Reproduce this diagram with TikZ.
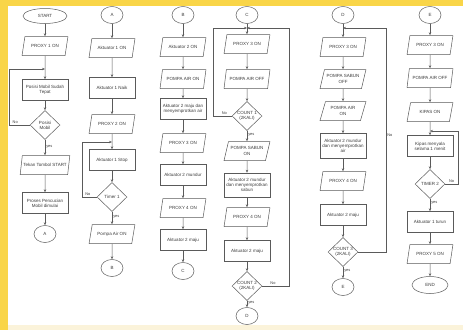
\documentclass[tikz,border=0pt]{standalone}
\usepackage{fontspec}
\setmainfont{Liberation Sans}
\usetikzlibrary{shapes.geometric,arrows.meta}
\definecolor{bgy}{HTML}{F9D548}
\definecolor{cream}{HTML}{FBF3DA}
\definecolor{ln}{HTML}{5A5A5A}
\definecolor{tx}{HTML}{3C3C3C}
\begin{document}
\begin{tikzpicture}[x=1pt,y=-1pt,
  every node/.style={font=\fontsize{4.5}{5.2}\selectfont, text=tx},
  base/.style={draw=ln, line width=0.5pt, inner sep=1pt, align=center},
  proc/.style={base, rectangle, minimum width=46pt, minimum height=21pt},
  io/.style={base, trapezium, trapezium left angle=68, trapezium right angle=112, trapezium stretches=true, minimum width=46pt, minimum height=19pt},
  dec/.style={base, diamond, minimum width=30pt, minimum height=29pt, inner sep=0pt},
  conn/.style={base, ellipse, minimum width=22pt, minimum height=17pt},
  term/.style={base, ellipse, minimum width=44pt, minimum height=15pt},
  arr/.style={draw=ln, line width=0.5pt, -{Stealth[length=3pt,width=2.4pt]}},
  lbl/.style={font=\fontsize{3.9}{4.5}\selectfont, inner sep=1pt}]
\useasboundingbox (0,0) rectangle (463,330);
\fill[bgy] (0,0) rectangle (463,330);
\fill[white] (8,6) rectangle (463,325);
\fill[cream] (8,325) rectangle (463,330);

% ---------- column 1
\node[term] (s1) at (45,16) {START};
\node[io] (a1) at (45,46) {PROXY 1 ON};
\node[proc] (a2) at (45,90) {Posisi Mobil Sudah\\Tepat};
\node[dec] (a3) at (45,125) {Posisi\\Mobil};
\node[io] (a4) at (45,165) {Tekan Tombol START};
\node[proc] (a5) at (45,203) {Proses Pencucian\\Mobil dimulai};
\node[conn] (a6) at (45,234) {A};
\coordinate (ja) at (45,69);
\coordinate (ka) at (9,125);
\draw[arr] (s1) -- (a1);
\draw[arr] (a1) -- (a2);
\draw[arr] (a2) -- (a3);
\draw[arr] (a3) -- node[lbl,right,pos=0.45]{yes} (a4);
\draw[arr] (a4) -- (a5);
\draw[arr] (a5) -- (a6);
\draw[arr] (a3.west) -- node[lbl,above,pos=0.7]{No} (ka) |- (ja);

% ---------- column 2
\node[conn] (b0) at (112,15) {A};
\node[io] (b1) at (112,48) {Aktuator 1 ON};
\node[proc] (b2) at (112,88) {Aktuator 1 Naik};
\node[io] (b3) at (112,124) {PROXY 2 ON};
\node[proc] (b4) at (112,160) {Aktuator 1 Stop};
\node[dec] (b5) at (112,197) {Timer 1};
\node[io] (b6) at (112,234) {Pompa Air ON};
\node[conn] (b7) at (112,268) {B};
\coordinate (jb) at (112,142);
\coordinate (kb) at (82,197);
\draw[arr] (b0) -- (b1);
\draw[arr] (b1) -- (b2);
\draw[arr] (b2) -- (b3);
\draw[arr] (b3) -- (b4);
\draw[arr] (b4) -- (b5);
\draw[arr] (b5) -- node[lbl,right,pos=0.4]{yes} (b6);
\draw[arr] (b6) -- (b7);
\draw[arr] (b5.west) -- node[lbl,above,pos=0.6]{No} (kb) |- (jb);

% ---------- column 3
\node[conn] (c0) at (183,15) {B};
\node[io] (c1) at (183,47) {Aktuator 2 ON};
\node[io] (c2) at (183,79) {POMPA AIR ON};
\node[proc] (c3) at (183,109) {Aktuator 2 maju dan\\menyemprotkan air};
\node[io] (c4) at (183,143) {PROXY 3 ON};
\node[proc] (c5) at (183,175) {Aktuator 2 mundur};
\node[io] (c6) at (183,208) {PROXY 4 ON};
\node[proc] (c7) at (183,240) {Aktuator 2 maju};
\node[conn] (c8) at (183,271) {C};
\draw[arr] (c0) -- (c1);
\draw[arr] (c1) -- (c2);
\draw[arr] (c2) -- (c3);
\draw[arr] (c3) -- (c4);
\draw[arr] (c4) -- (c5);
\draw[arr] (c5) -- (c6);
\draw[arr] (c6) -- (c7);
\draw[arr] (c7) -- (c8);

% ---------- column 4
\node[conn] (d0) at (247,15) {C};
\node[io] (d1) at (247,44) {PROXY 3 ON};
\node[io] (d2) at (247,79) {POMPA AIR OFF};
\node[dec] (d3) at (247,116) {COUNT 1\\(2KALI)};
\node[io] (d4) at (247,151) {POMPA SABUN\\ON};
\node[proc, minimum height=24pt] (d5) at (247,185) {Aktuator 2 mundur\\dan menyemprotkan\\sabun};
\node[io] (d6) at (247,217) {PROXY 4 ON};
\node[proc] (d7) at (247,251) {Aktuator 2 maju};
\node[dec] (d8) at (247,286) {COUNT 2\\(2KALI)};
\node[conn] (d9) at (247,316) {D};
\coordinate (jd) at (247,28);
\coordinate (kd) at (213,116);
\coordinate (md) at (289,286);
\draw[arr] (d0) -- (d1);
\draw[arr] (d1) -- (d2);
\draw[arr] (d2) -- (d3);
\draw[arr] (d3) -- node[lbl,right,pos=0.4]{yes} (d4);
\draw[arr] (d4) -- (d5);
\draw[arr] (d5) -- (d6);
\draw[arr] (d6) -- (d7);
\draw[arr] (d7) -- (d8);
\draw[arr] (d8) -- node[lbl,right,pos=0.3]{yes} (d9);
\draw[arr] (d3.west) -- node[lbl,above,pos=0.4]{No} (kd) |- (jd);
\draw[arr] (d8.east) -- node[lbl,above,pos=0.4]{No} (md) |- (jd);

% ---------- column 5
\node[conn] (e0) at (343,15) {D};
\node[io] (e1) at (343,47) {PROXY 3 ON};
\node[io] (e2) at (343,79) {POMPA SABUN\\OFF};
\node[io] (e3) at (343,111) {POMPA AIR\\ON};
\node[proc, minimum height=25pt] (e4) at (343,146) {Aktuator 2 mundur\\dan menyemprotkan\\air};
\node[io] (e5) at (343,181) {PROXY 4 ON};
\node[proc] (e6) at (343,215) {Aktuator 2 maju};
\node[dec] (e7) at (343,252) {COUNT 3\\(2KALI)};
\node[conn] (e8) at (343,287) {E};
\coordinate (je) at (343,28);
\coordinate (me) at (386,252);
\draw[arr] (e0) -- (e1);
\draw[arr] (e1) -- (e2);
\draw[arr] (e2) -- (e3);
\draw[arr] (e3) -- (e4);
\draw[arr] (e4) -- (e5);
\draw[arr] (e5) -- (e6);
\draw[arr] (e6) -- (e7);
\draw[arr] (e7) -- node[lbl,right,pos=0.35]{yes} (e8);
\draw[arr] (e7.east) -- (me) |- node[lbl,right,pos=0.26]{No} (je);

% ---------- column 6
\node[conn] (f0) at (430,15) {E};
\node[io] (f1) at (430,45) {PROXY 3 ON};
\node[io] (f2) at (430,78) {POMPA AIR OFF};
\node[io] (f3) at (430,112) {KIPAS ON};
\node[proc] (f4) at (430,146) {Kipas menyala\\selama 1 menit};
\node[dec] (f5) at (430,184) {TIMER 2};
\node[proc] (f6) at (430,222) {Aktuator 1 turun};
\node[io] (f7) at (430,254) {PROXY 5 ON};
\node[term, minimum width=36pt, minimum height=17pt] (f8) at (430,285) {END};
\coordinate (jf) at (430,131);
\coordinate (mf) at (458,184);
\draw[arr] (f0) -- (f1);
\draw[arr] (f1) -- (f2);
\draw[arr] (f2) -- (f3);
\draw[arr] (f3) -- (f4);
\draw[arr] (f4) -- (f5);
\draw[arr] (f5) -- node[lbl,right,pos=0.35]{yes} (f6);
\draw[arr] (f6) -- (f7);
\draw[arr] (f7) -- (f8);
\draw[arr] (f5.east) -- node[lbl,above,pos=0.5]{No} (mf) |- (jf);
\end{tikzpicture}
\end{document}
